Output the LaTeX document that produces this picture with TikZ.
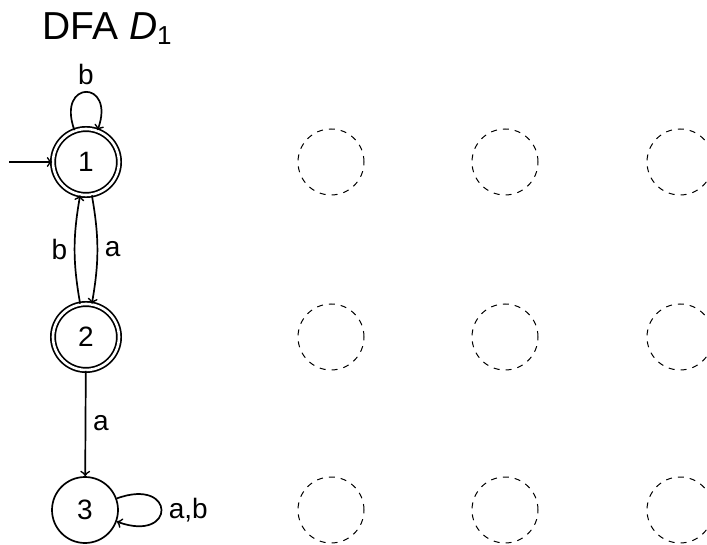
\documentclass[tikz,border=0pt]{standalone}
\usepackage{fontspec}
\setmainfont{Liberation Sans}
\begin{document}
\begin{tikzpicture}[x=0.5pt,y=0.5pt,
  lbl/.style={font=\fontsize{14}{16}\selectfont},
  st/.style={circle, draw, minimum size=33pt, inner sep=0pt, line width=0.85pt, lbl},
  acc/.style={st, double, double distance=1.3pt},
  ghost/.style={circle, draw, dashed, minimum size=33pt, inner sep=0pt, line width=0.5pt},
  edge/.style={->, line width=0.85pt}]
\useasboundingbox (0,0) rectangle (707,-545);
\node[anchor=base west, inner sep=0pt, font=\fontsize{19.5}{22}\selectfont] (title) at (42,-40) {DFA \textit{D}\raisebox{-2.5pt}{\fontsize{13}{14}\selectfont 1}};
\node[acc] (s1) at (86,-162) {1};
\node[acc] (s2) at (86,-337) {2};
\node[st]  (s3) at (85,-510) {3};
\coordinate (init) at (9,-162);
\foreach \x/\n in {331/a,505/b,680/c}{
  \node[ghost] (g1\n) at (\x,-162) {};
  \node[ghost] (g2\n) at (\x,-337) {};
  \node[ghost] (g3\n) at (\x,-510) {};
}
\draw[edge] (init) -- (s1);
\draw[edge] (s1) to[out=110,in=70,looseness=6] node[above,lbl] {b} (s1);
\draw[edge] (s1) to[bend left=10] node[right,lbl] {a} (s2);
\draw[edge] (s2) to[bend left=10] node[left,lbl] {b} (s1);
\draw[edge] (s2) -- node[right,lbl] {a} (s3);
\draw[edge] (s3) to[out=20,in=-20,looseness=7] node[right,lbl] {a,b} (s3);
\end{tikzpicture}
\end{document}
